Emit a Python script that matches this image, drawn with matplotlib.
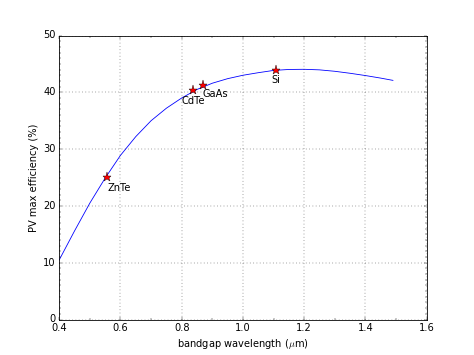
import matplotlib
matplotlib.use("Agg")
import matplotlib.pyplot as plt
from matplotlib.ticker import MultipleLocator

plt.style.use("classic")

# curve: bandgap wavelength (um) vs max efficiency (%)
wavelength = [0.40, 0.45, 0.50, 0.55, 0.60, 0.65, 0.70, 0.75, 0.80, 0.85,
              0.90, 0.95, 1.00, 1.05, 1.10, 1.15, 1.20, 1.25, 1.30, 1.35,
              1.40, 1.45, 1.49]
efficiency = [10.5, 15.6, 20.5, 24.9, 28.9, 32.2, 35.0, 37.2, 39.0, 40.5,
              41.6, 42.4, 43.0, 43.45, 43.85, 44.02, 44.05, 43.95, 43.7, 43.35,
              42.95, 42.5, 42.1]

materials = ["ZnTe", "CdTe", "GaAs", "Si"]
mat_wl = [0.557, 0.838, 0.868, 1.107]
mat_eff = [25.1, 40.4, 41.2, 44.0]

fig = plt.figure(figsize=(474 / 59.25, 355 / 59.25), dpi=59.25)
ax = fig.add_subplot(111)
ax.plot(wavelength, efficiency, "b-")
ax.plot(mat_wl, mat_eff, "r*", markersize=11)

# label offsets in points (dx, dy) and alignment
offsets = {"ZnTe": (0, -7, "left"), "CdTe": (0, -7, "center"),
           "GaAs": (0, -4, "left"), "Si": (0, -7, "center")}
for name, x, y in zip(materials, mat_wl, mat_eff):
    dx, dy, ha = offsets[name]
    ax.annotate(name, (x, y), xytext=(dx, dy), textcoords="offset points",
                ha=ha, va="top", fontsize=12)

ax.set_xlim(0.4, 1.6)
ax.set_ylim(0, 50)
ax.xaxis.set_minor_locator(MultipleLocator(0.1))
ax.yaxis.set_minor_locator(MultipleLocator(1))
ax.grid(True)
ax.set_xlabel(r"bandgap wavelength ($\mu$m)")
ax.set_ylabel("PV max efficiency (%)")

fig.savefig("out.png", dpi=59.25)
